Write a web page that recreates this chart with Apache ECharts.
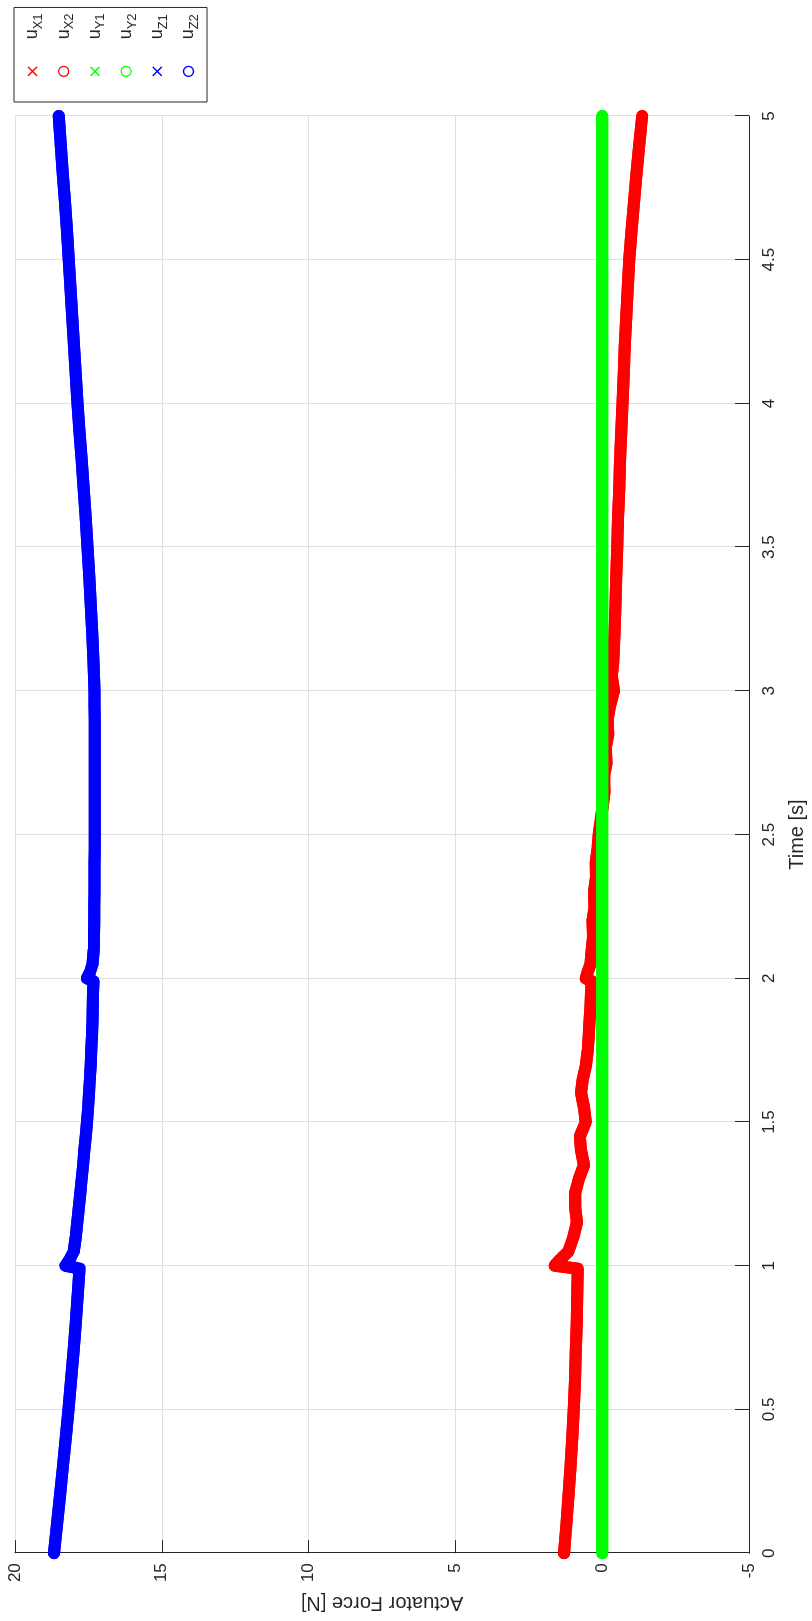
<!DOCTYPE html>
<html>
<head>
<meta charset="utf-8">
<title>Actuator Force</title>
<script src="https://cdn.jsdelivr.net/npm/echarts/dist/echarts.min.js"></script>
<style>
  html, body { margin: 0; padding: 0; background: #ffffff; }
  body { width: 812px; height: 1621px; overflow: hidden; position: relative; }
  /* The plot is laid out landscape and turned a quarter turn counter-clockwise */
  #chart {
    position: absolute; left: 0; top: 0;
    width: 1621px; height: 812px;
    transform-origin: 0 0;
    transform: translate(0, 1621px) rotate(-90deg);
  }
</style>
</head>
<body>
<div id="chart"></div>
<script>
// Sample times [s]
const time = [
  0, 0.1, 0.2, 0.3, 0.4, 0.5, 0.6, 0.7, 0.8, 0.9,
  0.99, 1.0, 1.02, 1.05,
  1.1, 1.15, 1.2, 1.25, 1.3, 1.35, 1.4, 1.45, 1.5, 1.55,
  1.6, 1.65, 1.7, 1.75, 1.8, 1.85, 1.9, 1.95,
  1.99, 2.0, 2.02,
  2.05, 2.1, 2.15, 2.2, 2.25, 2.3, 2.35, 2.4, 2.45, 2.5, 2.55,
  2.6, 2.65, 2.7, 2.75, 2.8, 2.85, 2.9, 2.95, 3.0, 3.05, 3.1,
  3.2, 3.3, 3.4, 3.5, 3.6, 3.7, 3.8, 3.9, 4.0,
  4.1, 4.2, 4.3, 4.4, 4.5, 4.6, 4.7, 4.8, 4.9, 5.0
];

// Actuator forces [N]
const uX1 = [
  1.30, 1.22, 1.15, 1.08, 1.02, 0.97, 0.93, 0.90, 0.87, 0.85,
  0.83, 1.62, 1.45, 1.15,
  0.98, 0.86, 0.92, 0.93, 0.80, 0.62, 0.72, 0.76, 0.56, 0.62,
  0.72, 0.66, 0.55, 0.49, 0.46, 0.43, 0.40, 0.38,
  0.36, 0.56, 0.50,
  0.40, 0.36, 0.31, 0.33, 0.26, 0.28, 0.21, 0.22, 0.16, 0.12, 0.05,
  -0.02, -0.08, -0.06, -0.15, -0.12, -0.21, -0.18, -0.27, -0.40, -0.33, -0.38,
  -0.42, -0.45, -0.48, -0.51, -0.54, -0.58, -0.61, -0.65, -0.69,
  -0.73, -0.77, -0.82, -0.87, -0.92, -1.00, -1.08, -1.17, -1.26, -1.36
];
const uX2 = uX1.slice();

const uY1 = [
  0, 0, 0, 0, 0, 0, 0, 0, 0, 0,
  0, 0, 0, 0,
  0, 0, 0, 0, 0, 0, 0, 0, 0, 0,
  0, 0, 0, 0, 0, 0, 0, 0,
  0, 0, 0,
  0, 0, 0, 0, 0, 0, 0, 0, 0, 0, 0,
  0, 0, 0, 0, 0, 0, 0, 0, 0, 0, 0,
  0, 0, 0, 0, 0, 0, 0, 0, 0,
  0, 0, 0, 0, 0, 0, 0, 0, 0, 0
];
const uY2 = uY1.slice();

const uZ1 = [
  18.67, 18.57, 18.47, 18.37, 18.27, 18.18, 18.09, 18.01, 17.93, 17.86,
  17.80, 18.28, 18.15, 18.00,
  17.93, 17.88, 17.83, 17.78, 17.73, 17.68, 17.64, 17.59, 17.55, 17.51,
  17.48, 17.45, 17.42, 17.40, 17.38, 17.36, 17.35, 17.34,
  17.33, 17.55, 17.45,
  17.36, 17.32, 17.31, 17.30, 17.30, 17.29, 17.29, 17.29, 17.28, 17.28, 17.28,
  17.28, 17.28, 17.28, 17.28, 17.28, 17.28, 17.28, 17.29, 17.29, 17.31, 17.33,
  17.37, 17.42, 17.47, 17.53, 17.59, 17.66, 17.73, 17.80, 17.87,
  17.93, 17.99, 18.05, 18.11, 18.17, 18.23, 18.30, 18.37, 18.44, 18.51
];
const uZ2 = uZ1.slice();

// Axis tick labels
const timeTicks = ['0', '0.5', '1', '1.5', '2', '2.5', '3', '3.5', '4', '4.5', '5'];
const forceTicks = ['-5', '0', '5', '10', '15', '20'];

// Legend entries: name, colour, marker kind
const seriesNames = ['uX1', 'uX2', 'uY1', 'uY2', 'uZ1', 'uZ2'];
const seriesColors = ['#ff0000', '#ff0000', '#00ff00', '#00ff00', '#0000ff', '#0000ff'];
const seriesMarkers = ['cross', 'circle', 'cross', 'circle', 'cross', 'circle'];
const seriesValues = [uX1, uX2, uY1, uY2, uZ1, uZ2];

const FONT = '"Liberation Sans", Arial, Helvetica, sans-serif';
const INK = '#262626';
const CROSS = 'path://M1,0 L5,4 L9,0 L10,1 L6,5 L10,9 L9,10 L5,6 L1,10 L0,9 L4,5 L0,1 Z';

const chart = echarts.init(document.getElementById('chart'), null, { renderer: 'canvas' });

const series = seriesNames.map((name, i) => ({
  name: name,
  type: 'line',
  data: time.map((t, k) => [t, seriesValues[i][k]]),
  showSymbol: false,
  symbol: 'none',
  clip: false,
  silent: true,
  itemStyle: { color: seriesColors[i] },
  lineStyle: { color: seriesColors[i], width: 12, cap: 'round', join: 'round' },
  z: 2 + i
}));

const legendData = seriesNames.map((name, i) => (
  seriesMarkers[i] === 'cross'
    ? { name: name, icon: CROSS, itemStyle: { color: seriesColors[i], borderWidth: 0 } }
    : { name: name, icon: 'circle',
        itemStyle: { color: 'transparent', borderColor: seriesColors[i], borderWidth: 1.3 } }
));

chart.setOption({
  animation: false,
  backgroundColor: '#ffffff',
  textStyle: { fontFamily: FONT },
  grid: { left: 64, right: 116, top: 15, bottom: 63, containLabel: false },
  xAxis: {
    type: 'value',
    min: 0, max: 5, interval: 0.5,
    name: 'Time [s]',
    nameLocation: 'middle',
    nameGap: 38,
    nameTextStyle: { fontSize: 20, color: INK, fontFamily: FONT },
    axisLine: { show: true, onZero: false, lineStyle: { color: INK, width: 1 } },
    axisTick: { show: true, inside: true, length: 14, lineStyle: { color: INK, width: 1 } },
    axisLabel: {
      fontSize: 17, color: INK, fontFamily: FONT, margin: 12,
      formatter: v => timeTicks[Math.round(v / 0.5)]
    },
    splitLine: { show: true, lineStyle: { color: '#e0e0e0', width: 1 } }
  },
  yAxis: {
    type: 'value',
    min: -5, max: 20, interval: 5,
    name: 'Actuator Force [N]',
    nameLocation: 'middle',
    nameRotate: 90,
    nameGap: 34,
    nameTextStyle: { fontSize: 20, color: INK, fontFamily: FONT },
    axisLine: { show: true, onZero: false, lineStyle: { color: INK, width: 1 } },
    axisTick: { show: true, inside: true, length: 13, lineStyle: { color: INK, width: 1 } },
    axisLabel: {
      fontSize: 17, color: INK, fontFamily: FONT, margin: 10,
      formatter: v => forceTicks[Math.round((v + 5) / 5)]
    },
    splitLine: { show: true, lineStyle: { color: '#e0e0e0', width: 1 } }
  },
  legend: {
    orient: 'vertical',
    left: 1519,
    top: 14,
    padding: [6, 6, 6, 25],
    itemWidth: 10,
    itemHeight: 10,
    itemGap: 6.2,
    selectedMode: false,
    borderColor: INK,
    borderWidth: 1,
    backgroundColor: '#ffffff',
    data: legendData,
    formatter: name => '{u|u}{s|' + name.slice(1) + '}',
    textStyle: {
      color: INK,
      fontFamily: FONT,
      rich: {
        u: { fontSize: 18, lineHeight: 24, padding: [0, 0, 0, 22], color: INK, fontFamily: FONT },
        s: { fontSize: 13, lineHeight: 13, padding: [12, 0, 0, 0], color: INK, fontFamily: FONT }
      }
    }
  },
  series: series
});
</script>
</body>
</html>
